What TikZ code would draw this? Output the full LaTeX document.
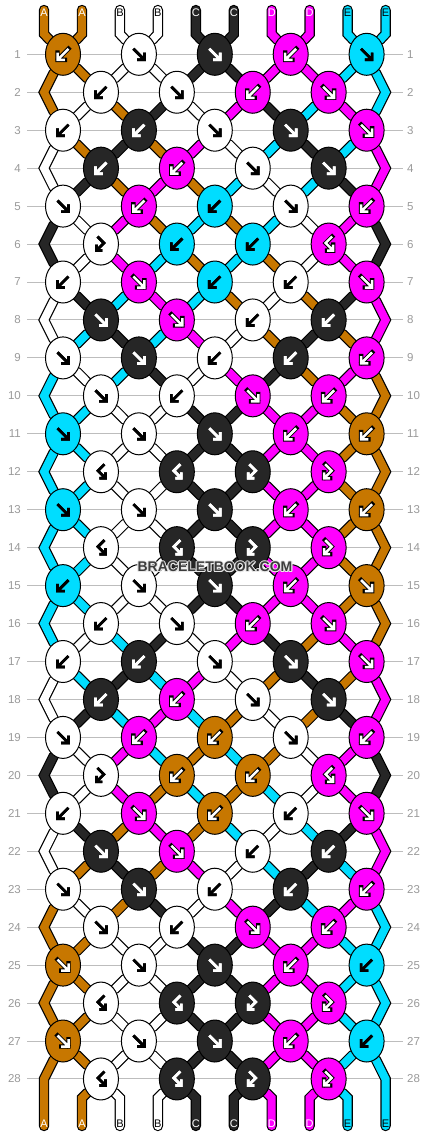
\documentclass[tikz,border=0pt]{standalone}
\usepackage{fontspec}
\setmainfont{Liberation Sans}
\usetikzlibrary{shapes.geometric}
\definecolor{sO}{HTML}{C77700}
\definecolor{sW}{HTML}{FFFFFF}
\definecolor{sK}{HTML}{262626}
\definecolor{sM}{HTML}{FF00FF}
\definecolor{sC}{HTML}{00DDFF}
\definecolor{gridgray}{HTML}{BDBDBD}
\definecolor{numgray}{HTML}{9A9A9A}
\definecolor{wmgray}{HTML}{3C3C3C}
\definecolor{wmhalo}{HTML}{E8E8E8}
\pgfdeclarelayer{paperlayer}
\pgfdeclarelayer{gridlayer}
\pgfdeclarelayer{stringlayer}
\pgfsetlayers{paperlayer,gridlayer,stringlayer,main}
\newcommand\strpath[2]{\draw[strout] #2;\draw[strin,draw=#1] #2;}
\newcommand\knX[1]{63+37.95*(#1)}
\newcommand\knY[1]{54.3+37.95*((#1)-1)}
\newcommand\glyphF{(-5.5,-5.5) -- (4.8,4.8) (-1.8,5.5) -- (5.5,5.5) -- (5.5,-1.8)}
\newcommand\glyphB{(5.5,-5.5) -- (-4.8,4.8) (1.8,5.5) -- (-5.5,5.5) -- (-5.5,-1.8)}
\newcommand\glyphFB{(-3.5,-7.5) -- (3,-1) -- (-3.8,5.8) (-4.5,0.5) -- (-4.5,6.5) -- (1.5,6.5)}
\newcommand\glyphBF{(3.5,-7.5) -- (-3,-1) -- (3.8,5.8) (4.5,0.5) -- (4.5,6.5) -- (-1.5,6.5)}
\begin{document}
\begin{tikzpicture}[x=1pt,y=-1pt,
  strout/.style={line width=10.4pt,draw=black,line join=miter,line cap=round},
  strin/.style={line width=8pt,line join=miter,line cap=round},
  knot/.style={ellipse,draw=black,line width=1pt,minimum width=35pt,minimum height=42pt,inner sep=0pt},
  arr/.style={line cap=butt,line join=miter},
  aout-sW/.style={arr,draw=black,line width=2.7pt},
  ain-sW/.style={arr,draw=black,line width=2.7pt},
  aout-sC/.style={arr,draw=black,line width=2.7pt},
  ain-sC/.style={arr,draw=black,line width=2.7pt},
  aout-sK/.style={arr,draw=white,line width=2.7pt},
  ain-sK/.style={arr,draw=white,line width=2.7pt},
  aout-sM/.style={arr,draw=black,line width=4.4pt,line cap=rect},
  ain-sM/.style={arr,draw=white,line width=2.5pt},
  aout-sO/.style={arr,draw=black,line width=4.4pt,line cap=rect},
  ain-sO/.style={arr,draw=white,line width=2.5pt},
  rowlab/.style={text=numgray,font=\fontsize{11.5}{11.5}\selectfont,inner sep=0pt},
  strlab/.style={font=\fontsize{11}{11}\selectfont,inner sep=0pt},
  wmark/.style={font=\bfseries\fontsize{14}{14}\selectfont,inner sep=0pt}
]
\useasboundingbox (0,0) rectangle (430,1136);
\begin{pgfonlayer}{paperlayer}
\fill[white] (0,0) rectangle (430,1136);
\end{pgfonlayer}

% edge vertices, top and bottom ends
\foreach \r in {2,4,...,28}{
  \coordinate (e-\r-L) at ({\knX{-0.5}},{\knY{\r}});
  \coordinate (e-\r-R) at ({\knX{8.5}},{\knY{\r}});
}
\foreach \p in {0,...,9}{
  \coordinate (t-\p-a) at ({\knX{\p-0.5}},10);
  \coordinate (t-\p-b) at ({\knX{\p-0.5}},34);
  \coordinate (b-\p-a) at ({\knX{\p-0.5}},{\knY{28}+19});
  \coordinate (b-\p-b) at ({\knX{\p-0.5}},1126);
}

% knots
\foreach \r/\ks in {
 1/{B/sO,F/sW,F/sK,B/sM,F/sC},
 2/{B/sW,F/sW,B/sM,F/sM},
 3/{B/sW,B/sK,F/sW,F/sK,F/sM},
 4/{B/sK,B/sM,F/sW,F/sK},
 5/{F/sW,B/sM,B/sC,F/sW,B/sM},
 6/{FB/sW,B/sC,B/sC,BF/sM},
 7/{B/sW,F/sM,B/sC,B/sW,F/sM},
 8/{F/sK,F/sM,B/sW,B/sK},
 9/{F/sW,F/sK,B/sW,B/sK,B/sM},
 10/{F/sW,B/sW,F/sM,B/sM},
 11/{F/sC,F/sW,F/sK,B/sM,B/sO},
 12/{BF/sW,BF/sK,FB/sK,FB/sM},
 13/{F/sC,F/sW,F/sK,B/sM,B/sO},
 14/{BF/sW,BF/sK,FB/sK,FB/sM},
 15/{B/sC,F/sW,F/sK,B/sM,F/sO},
 16/{B/sW,F/sW,B/sM,F/sM},
 17/{B/sW,B/sK,F/sW,F/sK,F/sM},
 18/{B/sK,B/sM,F/sW,F/sK},
 19/{F/sW,B/sM,B/sO,F/sW,B/sM},
 20/{FB/sW,B/sO,B/sO,BF/sM},
 21/{B/sW,F/sM,B/sO,B/sW,F/sM},
 22/{F/sK,F/sM,B/sW,B/sK},
 23/{F/sW,F/sK,B/sW,B/sK,B/sM},
 24/{F/sW,B/sW,F/sM,B/sM},
 25/{F/sO,F/sW,F/sK,B/sM,B/sC},
 26/{BF/sW,BF/sK,FB/sK,FB/sM},
 27/{F/sO,F/sW,F/sK,B/sM,B/sC},
 28/{BF/sW,BF/sK,FB/sK,FB/sM}}{
  \pgfmathtruncatemacro{\rodd}{mod(\r,2)}
  \foreach \t/\kc [count=\i from 0] in \ks {
    \pgfmathtruncatemacro{\c}{\rodd==1 ? 2*\i : 2*\i+1}
    \node[knot,fill=\kc] (n-\r-\c) at ({\knX{\c}},{\knY{\r}}) {};
    \expandafter\let\expandafter\thisglyph\csname glyph\t\endcsname
    \begin{scope}[shift={(n-\r-\c.center)}]
      \draw[aout-\kc] \thisglyph;
      \draw[ain-\kc] \thisglyph;
    \end{scope}
  }
}

% strings
\begin{pgfonlayer}{stringlayer}
\foreach \r/\st in {
 0/{sO,sO,sW,sW,sK,sK,sM,sM,sC,sC},
 1/{sO,sO,sW,sW,sK,sK,sM,sM,sC,sC},
 2/{sO,sW,sO,sK,sW,sM,sK,sC,sM,sC},
 3/{sW,sO,sK,sO,sM,sW,sC,sK,sC,sM},
 4/{sW,sK,sO,sM,sO,sC,sW,sC,sK,sM},
 5/{sK,sW,sM,sO,sC,sO,sC,sW,sM,sK},
 6/{sK,sW,sM,sC,sO,sC,sO,sW,sM,sK},
 7/{sW,sK,sC,sM,sC,sO,sW,sO,sK,sM},
 8/{sW,sC,sK,sC,sM,sW,sO,sK,sO,sM},
 9/{sC,sW,sC,sK,sW,sM,sK,sO,sM,sO},
 10/{sC,sC,sW,sW,sK,sK,sM,sM,sO,sO},
 11/{sC,sC,sW,sW,sK,sK,sM,sM,sO,sO},
 12/{sC,sC,sW,sW,sK,sK,sM,sM,sO,sO},
 13/{sC,sC,sW,sW,sK,sK,sM,sM,sO,sO},
 14/{sC,sC,sW,sW,sK,sK,sM,sM,sO,sO},
 15/{sC,sC,sW,sW,sK,sK,sM,sM,sO,sO},
 16/{sC,sW,sC,sK,sW,sM,sK,sO,sM,sO},
 17/{sW,sC,sK,sC,sM,sW,sO,sK,sO,sM},
 18/{sW,sK,sC,sM,sC,sO,sW,sO,sK,sM},
 19/{sK,sW,sM,sC,sO,sC,sO,sW,sM,sK},
 20/{sK,sW,sM,sO,sC,sO,sC,sW,sM,sK},
 21/{sW,sK,sO,sM,sO,sC,sW,sC,sK,sM},
 22/{sW,sO,sK,sO,sM,sW,sC,sK,sC,sM},
 23/{sO,sW,sO,sK,sW,sM,sK,sC,sM,sC},
 24/{sO,sO,sW,sW,sK,sK,sM,sM,sC,sC},
 25/{sO,sO,sW,sW,sK,sK,sM,sM,sC,sC},
 26/{sO,sO,sW,sW,sK,sK,sM,sM,sC,sC},
 27/{sO,sO,sW,sW,sK,sK,sM,sM,sC,sC},
 28/{sO,sO,sW,sW,sK,sK,sM,sM,sC,sC}}{
  \pgfmathtruncatemacro{\rodd}{mod(\r,2)}
  \pgfmathtruncatemacro{\rn}{\r+1}
  \pgfmathtruncatemacro{\rnn}{\r+2}
  \foreach \col [count=\pp from 0] in \st {
    \pgfmathtruncatemacro{\codd}{2*floor(\pp/2)}
    \pgfmathtruncatemacro{\ceven}{2*floor((\pp+1)/2)-1}
    \pgfmathtruncatemacro{\isedge}{((\pp==0)||(\pp==9)) ? 1 : 0}
    \ifnum\pp=0 \def\side{L}\else\def\side{R}\fi
    \ifnum\rodd=1 \edef\here{n-\r-\codd}\else
      \ifnum\isedge=1 \edef\here{e-\r-\side}\else\edef\here{n-\r-\ceven}\fi\fi
    \ifnum\r=0
      \strpath{\col}{(t-\pp-a) -- (t-\pp-b) -- (n-1-\codd)}
    \else\ifnum\r=28
      \ifnum\isedge=0 \strpath{\col}{(\here) -- (b-\pp-a) -- (b-\pp-b)}\fi
    \else\ifnum\r=27
      \ifnum\isedge=1 \strpath{\col}{(\here) -- (e-28-\side) -- (b-\pp-b)}%
      \else \strpath{\col}{(\here) -- (n-28-\ceven)}\fi
    \else
      \ifnum\isedge=1
        \ifnum\rodd=1 \strpath{\col}{(\here) -- (e-\rn-\side) -- (n-\rnn-\codd)}\fi
      \else
        \ifnum\rodd=1 \strpath{\col}{(\here) -- (n-\rn-\ceven)}%
        \else \strpath{\col}{(\here) -- (n-\rn-\codd)}\fi
      \fi
    \fi\fi\fi
  }
}
\end{pgfonlayer}

% row lines and numbers
\begin{pgfonlayer}{gridlayer}
\foreach \r in {1,...,28}{
  \node[rowlab,anchor=east] (ll-\r) at (21,{\knY{\r}}) {\r};
  \node[rowlab,anchor=west] (rl-\r) at (407,{\knY{\r}}) {\r};
  \draw[gridgray,line width=1pt] ([xshift=6pt]ll-\r.east) -- ([xshift=-4pt]rl-\r.west);
}
\end{pgfonlayer}

% string labels
\foreach \p/\l/\tc in {0/A/white,1/A/white,2/B/black,3/B/black,4/C/white,5/C/white,6/D/white,7/D/white,8/E/black,9/E/black}{
  \node[strlab,text=\tc] (tl-\p) at ({\knX{\p-0.5}},13) {\l};
  \node[strlab,text=\tc] (bl-\p) at ({\knX{\p-0.5}},1124) {\l};
}

% watermark with a light halo
\foreach \dx/\dy [count=\h] in {-1/0,1/0,0/-1,0/1,-0.8/-0.8,0.8/-0.8,-0.8/0.8,0.8/0.8}{
  \node[wmark,text=wmhalo] (wmh-\h) at ({215+\dx},{567+\dy}) {BRACELETBOOK.COM};
}
\node[wmark,text=wmgray] (wm) at (215,567) {BRACELETBOOK.COM};
\end{tikzpicture}
\end{document}
